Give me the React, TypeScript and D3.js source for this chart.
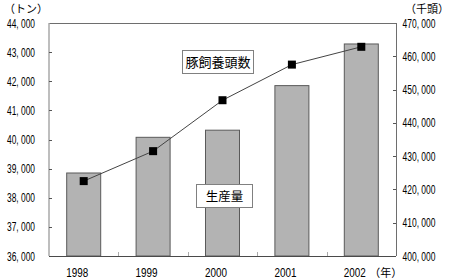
import React from "react";
import * as d3 from "d3";

const years = ["1998", "1999", "2000", "2001", "2002"];
const production = [38850, 40075, 40320, 41850, 43280];
const headcount = [422500, 431500, 446800, 457500, 462850];
const leftTicks = [36000, 37000, 38000, 39000, 40000, 41000, 42000, 43000, 44000];
const rightTicks = [400000, 410000, 420000, 430000, 440000, 450000, 460000, 470000];
const leftUnit = "（トン）";
const rightUnit = "（千頭）";
const yearUnit = "（年）";
const lineLabel = "豚飼養頭数";
const barLabel = "生産量";

const W = 450, H = 280;
const L = 49, R = 396, T = 23, B = 256;
const numFont = "'Liberation Sans', Arial, sans-serif";
const cjkFont = "'Noto Sans CJK JP', sans-serif";

export default function App() {
  const x = d3.scaleBand<string>().domain(years).range([L, R]).paddingInner(0).paddingOuter(0);
  const yL = d3.scaleLinear().domain([36000, 44000]).range([B, T]);
  const yR = d3.scaleLinear().domain([400000, 470000]).range([B, T]);
  const fmt = (v: number) => d3.format(",")(v).replace(",", ", ");
  const bw = x.bandwidth() * 0.49;
  const cx = (d: string) => (x(d) as number) + x.bandwidth() / 2;
  const line = d3.line<number>().x((_, i) => cx(years[i])).y((v) => yR(v));

  return (
    <svg width={W} height={H} style={{ position: "absolute", left: 0, top: 0, background: "#fff" }}>
      {production.map((v, i) => (
        <rect key={i} x={cx(years[i]) - bw / 2} y={yL(v)} width={bw} height={B - yL(v)}
          fill="#b3b3b3" stroke="#5a5a5a" strokeWidth={1} />
      ))}
      <line x1={L} x2={R} y1={T + 0.5} y2={T + 0.5} stroke="#6e6e6e" />
      <line x1={R + 0.5} x2={R + 0.5} y1={T} y2={B} stroke="#6e6e6e" />
      <line x1={L} x2={L} y1={T} y2={B} stroke="#a8a8a8" strokeWidth={1.5} />
      <line x1={L} x2={R} y1={B + 0.5} y2={B + 0.5} stroke="#4a4a4a" />
      {leftTicks.map((t) => (
        <g key={t}>
          {t !== 36000 && t !== 44000 && (
            <line x1={L} x2={L + 3} y1={Math.round(yL(t)) + 0.5} y2={Math.round(yL(t)) + 0.5} stroke="#555" />
          )}
          <text x={7} y={yL(t) + 4.5} textLength={28} lengthAdjust="spacingAndGlyphs"
            fontFamily={numFont} fontSize={12.5} fill="#000">{fmt(t)}</text>
        </g>
      ))}
      {rightTicks.map((t) => (
        <g key={t}>
          {t !== 400000 && t !== 470000 && (
            <line x1={R - 3} x2={R} y1={Math.round(yR(t)) + 0.5} y2={Math.round(yR(t)) + 0.5} stroke="#555" />
          )}
          <text x={402.5} y={yR(t) + 4.5} textLength={33} lengthAdjust="spacingAndGlyphs"
            fontFamily={numFont} fontSize={12.5} fill="#000">{fmt(t)}</text>
        </g>
      ))}
      {years.slice(1).map((d) => (
        <line key={d} x1={Math.round(x(d) as number) + 0.5} x2={Math.round(x(d) as number) + 0.5} y1={B - 4} y2={B}
          stroke="#aaa" />
      ))}
      {years.map((d, i) => (
        <g key={d}>
          <text x={cx(d) - bw / 2 - 0.5} y={277} textLength={22} lengthAdjust="spacingAndGlyphs"
            fontFamily={numFont} fontSize={12.5} fill="#000">{d}</text>
          {i === years.length - 1 && (
            <text x={cx(d) - bw / 2 + 25} y={277} fontFamily={cjkFont} fontSize={11} fill="#000">{yearUnit}</text>
          )}
        </g>
      ))}
      <path d={line(headcount) || ""} fill="none" stroke="#444" strokeWidth={1} />
      {headcount.map((v, i) => (
        <rect key={i} x={cx(years[i]) - 4} y={yR(v) - 4} width={8} height={8} fill="#000" />
      ))}
      <text x={4} y={13} fontFamily={cjkFont} fontSize={11} fill="#000">{leftUnit}</text>
      <text x={449} y={13} textAnchor="end" fontFamily={cjkFont} fontSize={11} fill="#000">{rightUnit}</text>
      <rect x={182.5} y={50.5} width={71} height={23} fill="#fff" stroke="#808080" />
      <text x={218} y={66.5} textAnchor="middle" fontFamily={cjkFont} fontSize={13} fill="#000">{lineLabel}</text>
      <rect x={196.5} y={184.5} width={56} height={23} fill="#fff" stroke="#808080" />
      <text x={224.5} y={200.5} textAnchor="middle" fontFamily={cjkFont} fontSize={12.5} fill="#000">{barLabel}</text>
    </svg>
  );
}
